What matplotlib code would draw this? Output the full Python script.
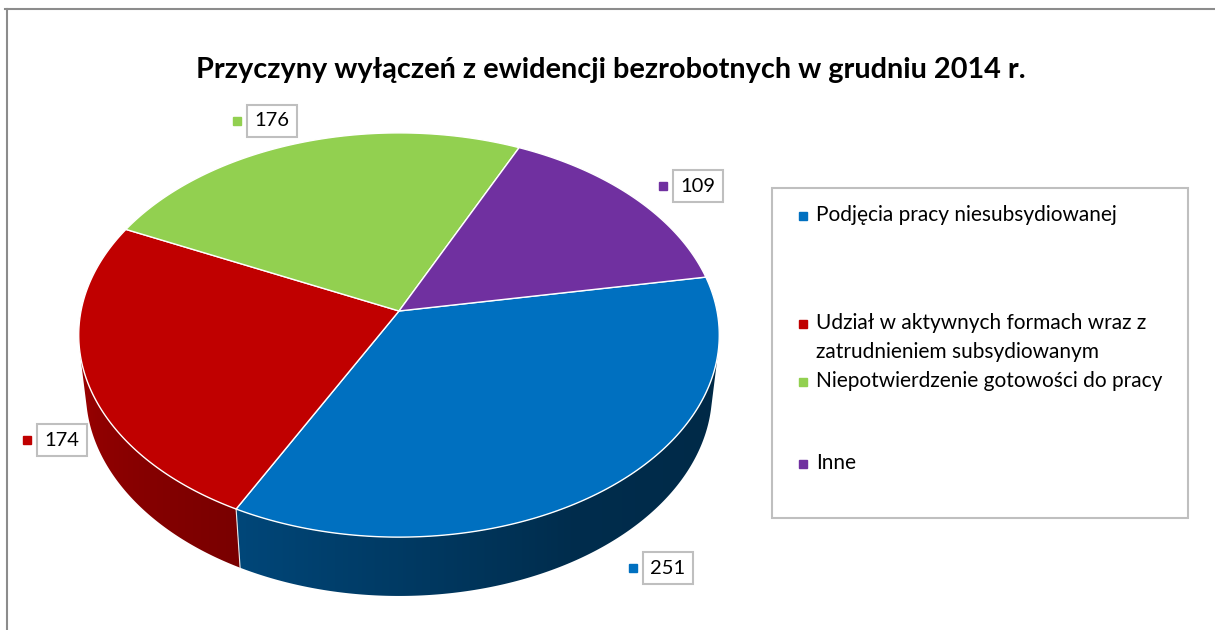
import numpy as np
import matplotlib
matplotlib.use('Agg')
import matplotlib.pyplot as plt
from matplotlib.patches import Polygon, Rectangle

title = 'Przyczyny wyłączeń z ewidencji bezrobotnych w grudniu 2014 r.'
categories = ['Podjęcia pracy niesubsydiowanej',
              'Udział w aktywnych formach wraz z\nzatrudnieniem subsydiowanym',
              'Niepotwierdzenie gotowości do pracy',
              'Inne']
values = [251, 174, 176, 109]
colors = ['#0070C0', '#C00000', '#92D050', '#7030A0']

# layout in pixels
W, H = 1215, 630
CX, CY, S = 399, 311, 318          # projected pie centre and scale
PHI = np.radians(38.8)             # tilt of the pie
DIST = 6.56                        # camera distance (perspective)
THICK = 0.235                      # pie height
START = 10.0                       # first slice starts here, goes clockwise
label_pos = [(668, 568), (62, 440), (272, 121), (698, 186)]
legend_y = [216, 324, 382, 464]

plt.rcParams['font.family'] = ['Lato', 'DejaVu Sans']


def project(X, Y, Z):
    yc = Y * np.sin(PHI) + Z * np.cos(PHI)
    d = DIST + Y * np.cos(PHI) - Z * np.sin(PHI)
    return CX + S * X * DIST / d, CY - S * yc * DIST / d


def rim(t, z):
    t = np.radians(t)
    return project(np.cos(t), np.sin(t), z)


def shade(col, t):
    t = np.mod(t, 360)
    f = np.interp(t, [180, 240, 300, 360], [0.82, 0.64, 0.40, 0.36])
    rgb = np.array(matplotlib.colors.to_rgb(col))
    return np.clip(rgb[None, :] * np.atleast_1d(f)[:, None], 0, 1)


fig = plt.figure(figsize=(W / 100, H / 100), dpi=100)
ax = fig.add_axes([0, 0, 1, 1])
ax.set_xlim(0, W)
ax.set_ylim(H, 0)
ax.axis('off')

# frame of the chart area
ax.plot([5, W], [9, 9], color='#8c8c8c', lw=1.5)
ax.plot([7, 7], [9, H], color='#8c8c8c', lw=1.5)

sweeps = np.array(values) / sum(values) * 360
ends = START - np.cumsum(sweeps)
starts = ends + sweeps

# visible part of the side wall
k = np.degrees(np.arcsin(1 / (DIST * np.cos(PHI))))
vis_lo, vis_hi = -180 + k, -k

for a0, a1, col in zip(starts, ends, colors):
    for shift in (-360, 0, 360):
        lo = max(a1 + shift, vis_lo)
        hi = min(a0 + shift, vis_hi)
        if hi <= lo:
            continue
        ts = np.linspace(lo, hi, 200)
        xt, yt = rim(ts, 0)
        xb, yb = rim(ts, -THICK)
        pts = list(zip(xt, yt)) + list(zip(xb[::-1], yb[::-1]))
        poly = Polygon(pts, closed=True, fc='none', ec='none')
        ax.add_patch(poly)
        # horizontal gradient, each column shaded by its angle on the rim
        x0, x1 = min(xt.min(), xb.min()) - 2, max(xt.max(), xb.max()) + 2
        y0, y1 = min(yt.min(), yb.min()) - 2, max(yt.max(), yb.max()) + 2
        cols = np.linspace(x0, x1, 400)
        tcol = np.interp(cols, xb, ts)
        img = shade(col, tcol)[None, :, :]
        im = ax.imshow(img, extent=(x0, x1, y1, y0), aspect='auto',
                       interpolation='bilinear', zorder=1)
        im.set_clip_path(poly)
        # thin light edge where side walls meet
        if vis_lo < a1 + shift < vis_hi:
            xa, ya = rim(a1 + shift, 0)
            xc, yc = rim(a1 + shift, -THICK)
            ax.plot([xa, xc], [ya, yc], color='#e8e8e8', lw=0.8, zorder=2)

ax.set_xlim(0, W)
ax.set_ylim(H, 0)

# top faces
for a0, a1, col in zip(starts, ends, colors):
    ts = np.linspace(a0, a1, 200)
    xs, ys = rim(ts, 0)
    pts = [(CX, CY)] + list(zip(xs, ys))
    ax.add_patch(Polygon(pts, closed=True, fc=col, ec='white', lw=1.0, zorder=3))

# data labels
for (lx, ly), v, col in zip(label_pos, values, colors):
    ax.text(lx, ly, str(v), ha='center', va='center', fontsize=14.5,
            color='black', zorder=5,
            bbox=dict(boxstyle='square,pad=0.38', fc='white', ec='#bfbfbf', lw=1.5))
    ax.plot(lx - 35, ly, marker='s', ms=5.5, color=col, mec=col, zorder=5)

# legend
ax.add_patch(Rectangle((772, 188), 416, 330, fc='white', ec='#bfbfbf', lw=1.5, zorder=4))
for name, y, col in zip(categories, legend_y, colors):
    ax.plot(803, y, marker='s', ms=6, color=col, mec=col, zorder=5)
    ax.text(816, y - 11, name, ha='left', va='top', fontsize=15,
            linespacing=1.55, color='black', zorder=5)

ax.text(611, 70, title, ha='center', va='center', fontsize=20.8,
        fontweight='bold', color='black', zorder=5)

plt.savefig('out.png', dpi=100)
